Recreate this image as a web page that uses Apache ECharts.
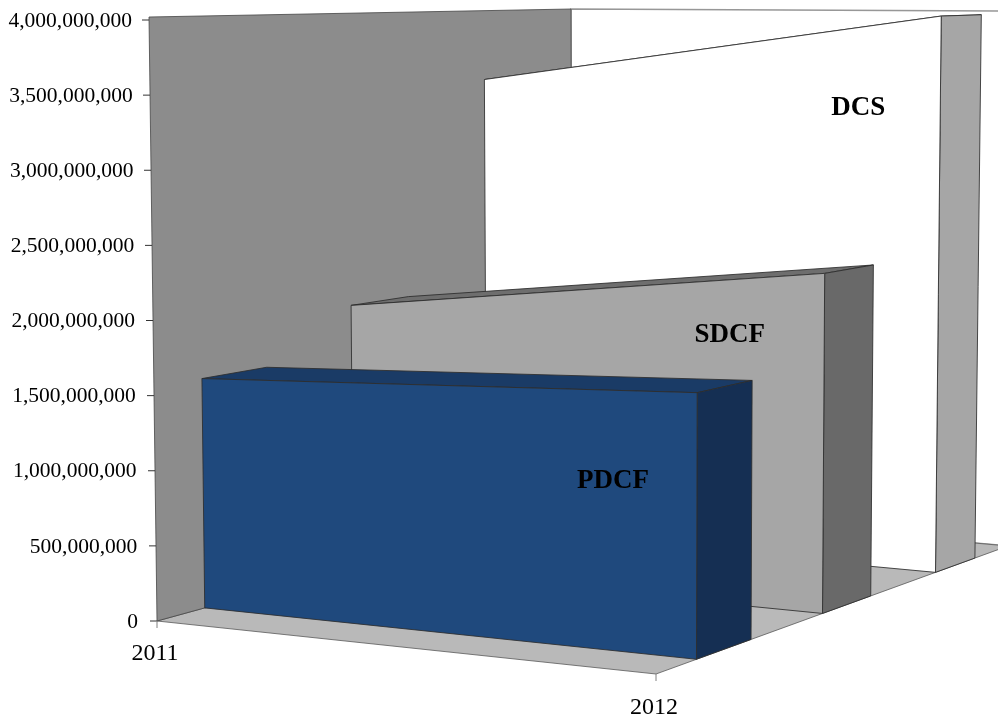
<!DOCTYPE html>
<html>
<head>
<meta charset="utf-8">
<script src="https://cdn.jsdelivr.net/npm/echarts@6/dist/echarts.min.js"></script>
<style>html,body{margin:0;padding:0;background:#fff}#chart{width:998px;height:720px}</style>
</head>
<body>
<div id="chart"></div>
<script>
// Yearly values per series (currency units)
const categories = ['2011', '2012'];
const PDCF = [1550000000, 1670000000];
const SDCF = [1890000000, 2280000000];
const DCS = [3470000000, 3980000000];
const valueTicks = [0, 500000000, 1000000000, 1500000000, 2000000000, 2500000000, 3000000000, 3500000000, 4000000000];

// Depth band of each ribbon inside the box, 0 = front, 1 = back
const ribbons = [
  { name: 'DCS', values: DCS, near: 0.794, far: 0.906, front: '#ffffff', side: '#a6a6a6', top: '#7f7f7f', tag: [0.82, 0.827] },
  { name: 'SDCF', values: SDCF, near: 0.473, far: 0.61, front: '#a6a6a6', side: '#696969', top: '#6e6e6e', tag: [0.80, 0.458] },
  { name: 'PDCF', values: PDCF, near: 0.115, far: 0.27, front: '#1f497d', side: '#152f53', top: '#1a3b66', tag: [0.83, 0.269] }
];

// Screen corners of the viewing box, indexed [u][v][w]
const box = [
  [[[157, 621], [572, 507]], [[149, 17], [571, 9]]],
  [[[656, 674], [1008, 546]], [[657, 22], [1015, 11]]]
];
const AXIS_MAX = 4000000000;
const lerp = (a, b, t) => a + (b - a) * t;

function project(u, v, w) {
  const pick = d => lerp(
    lerp(lerp(box[0][0][0][d], box[0][0][1][d], w), lerp(box[0][1][0][d], box[0][1][1][d], w), v),
    lerp(lerp(box[1][0][0][d], box[1][0][1][d], w), lerp(box[1][1][0][d], box[1][1][1][d], w), v),
    u
  );
  return [pick(0), pick(1)];
}

// Turns a category index and value into box coordinates using the chart's axes
function normal(api, index, value) {
  const o = api.coord([0, 0]);
  const e = api.coord([1, AXIS_MAX]);
  const p = api.coord([index, value]);
  return [(p[0] - o[0]) / (e[0] - o[0]), (p[1] - o[1]) / (e[1] - o[1])];
}

const edge = { stroke: 'rgba(45,45,45,0.85)', lineWidth: 1 };

function face(points, fill, extra) {
  return {
    type: 'polygon',
    shape: { points },
    style: Object.assign({ fill }, edge, extra || {})
  };
}

function line(a, b, stroke, lineWidth) {
  return {
    type: 'line',
    shape: { x1: a[0], y1: a[1], x2: b[0], y2: b[1] },
    style: { stroke, lineWidth, fill: null }
  };
}

// Walls, floor, ticks and category labels
function renderRoom(params, api) {
  const children = [
    face([project(0, 1, 1), project(1, 1, 1), project(1, 0, 1), project(0, 0, 1)], '#ffffff', { stroke: 'rgba(140,140,140,0.9)', lineWidth: 1.5 }),
    face([project(0, 0, 0), project(1, 0, 0), project(1, 0, 1), project(0, 0, 1)], '#b9b9b9', { stroke: 'rgba(90,90,90,0.8)' }),
    face([project(0, 0, 0), project(0, 1, 0), project(0, 1, 1), project(0, 0, 1)], '#8c8c8c', { stroke: 'rgba(70,70,70,0.8)' })
  ];
  valueTicks.forEach(value => {
    const [, v] = normal(api, 0, value);
    const x = project(0, v, 0)[0];
    const y = api.coord([0, value])[1] - 1;
    children.push(line([x, y], [x - 7, y], '#333333', 1));
  });
  categories.forEach((text, i) => {
    const [u] = normal(api, i, 0);
    const p = project(u, 0, 0);
    children.push(line(p, [p[0], p[1] + 7], '#808080', 1));
    children.push({
      type: 'text',
      style: {
        x: p[0] - 2, y: p[1] + (i === 0 ? 33 : 34),
        text, align: 'center', verticalAlign: 'middle',
        font: '24px "Liberation Serif"', fill: '#000000'
      }
    });
  });
  return { type: 'group', children };
}

// One ribbon: top, right side, then front face and its name
function renderRibbon(ribbon) {
  return function (params, api) {
    if (params.dataIndex !== 1) return null;
    const [u0, v0] = normal(api, api.value(0, 0), api.value(1, 0));
    const [u1, v1] = normal(api, api.value(0, 1), api.value(1, 1));
    const { near, far } = ribbon;
    const tag = project(ribbon.tag[0], ribbon.tag[1], near);
    return {
      type: 'group',
      children: [
        face([project(u0, v0, near), project(u1, v1, near), project(u1, v1, far), project(u0, v0, far)], ribbon.top),
        face([project(u1, v1, near), project(u1, 0, near), project(u1, 0, far), project(u1, v1, far)], ribbon.side),
        face([project(u0, 0, near), project(u1, 0, near), project(u1, v1, near), project(u0, v0, near)], ribbon.front),
        {
          type: 'text',
          style: {
            x: tag[0], y: tag[1], text: ribbon.name,
            align: 'center', verticalAlign: 'middle',
            font: 'bold 27px "Liberation Serif"', fill: '#000000'
          }
        }
      ]
    };
  };
}

// The value labels step inward with the leaning wall edge
const tickRich = {};
valueTicks.forEach((value, i) => {
  const lean = (box[0][0][0][0] - box[0][1][0][0]) * (value / AXIS_MAX) * 0.75;
  tickRich['t' + i] = {
    fontFamily: 'Liberation Serif', fontSize: 21.5, color: '#000000',
    padding: [0, lean, 0, 0]
  };
});

const chart = echarts.init(document.getElementById('chart'), null, { renderer: 'canvas' });
chart.setOption({
  animation: false,
  backgroundColor: '#ffffff',
  grid: { left: 157, top: 21, width: 499, height: 601 },
  xAxis: { type: 'category', data: categories, boundaryGap: false, show: false },
  yAxis: {
    type: 'value', min: 0, max: AXIS_MAX, interval: 500000000,
    axisLine: { show: false }, axisTick: { show: false }, splitLine: { show: false },
    axisLabel: {
      margin: 19, color: '#000000', fontFamily: 'Liberation Serif', fontSize: 21.5,
      rich: tickRich,
      formatter: value => '{t' + valueTicks.indexOf(value) + '|' + value.toLocaleString('en-US') + '}'
    }
  },
  series: [
    { type: 'custom', name: 'room', silent: true, clip: false, z: 1, data: [[0, 0]], encode: { x: 0, y: 1 }, renderItem: renderRoom }
  ].concat(ribbons.map((ribbon, i) => ({
    type: 'custom', name: ribbon.name, silent: true, clip: false, z: 2 + i,
    data: categories.map((c, k) => [k, ribbon.values[k]]),
    encode: { x: 0, y: 1 },
    renderItem: renderRibbon(ribbon)
  })))
});
</script>
</body>
</html>
